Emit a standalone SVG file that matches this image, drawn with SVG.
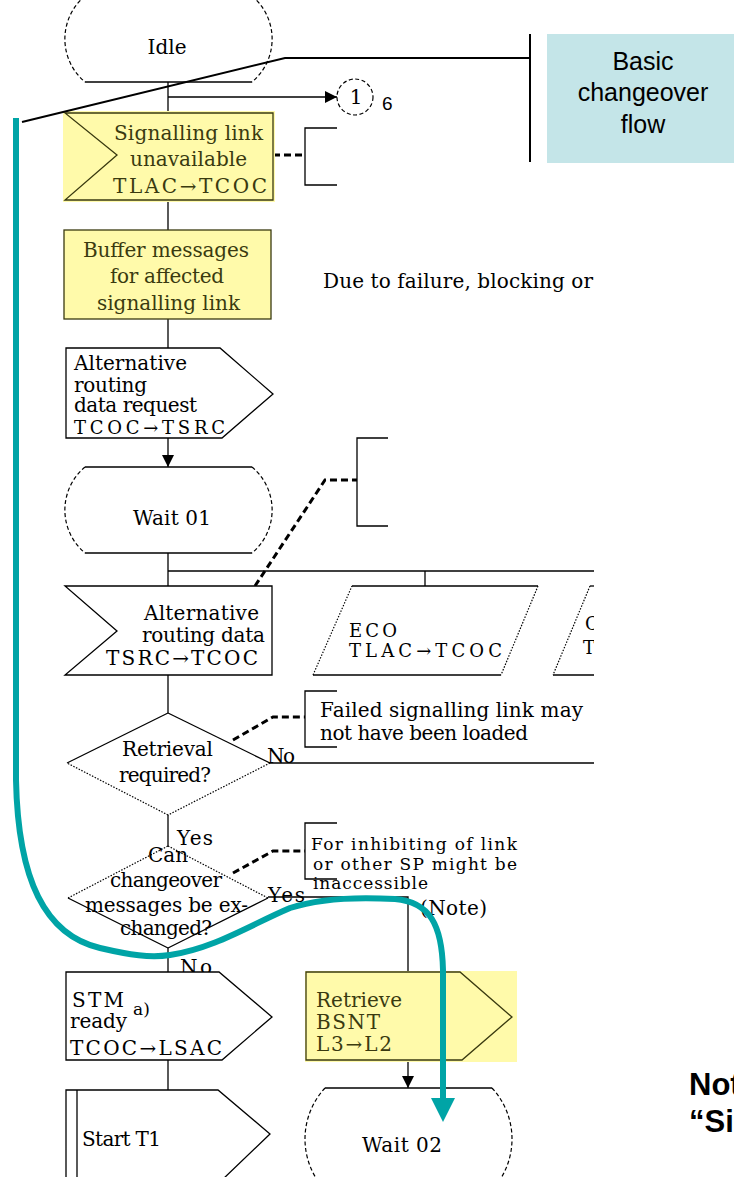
<svg xmlns="http://www.w3.org/2000/svg" width="734" height="1177" viewBox="0 0 734 1177">
<defs>
<style>
.ln{fill:none;stroke:#000;stroke-width:1.3}
.sh{fill:#fff;stroke:#000;stroke-width:1.3}
.yl{fill:none;stroke:#3a3a10;stroke-width:1.3}
.dsh{fill:none;stroke:#000;stroke-width:1.2;stroke-dasharray:4 2.5}
.dot{fill:none;stroke:#000;stroke-width:1.2;stroke-dasharray:1.5 1.5}
.note{fill:none;stroke:#000;stroke-width:3;stroke-dasharray:7 4}
.t{font-family:"DejaVu Serif","Liberation Serif",serif;font-size:20px;fill:#000}
.s{font-size:17px}
.m{font-size:18px}
.ty{fill:#3a3a10}
.box{fill:#fffaaa}
.sans{font-family:"Liberation Sans",Arial,sans-serif}
</style>
<marker id="ah" viewBox="0 0 10 10" refX="10" refY="5" markerWidth="12" markerHeight="12" markerUnits="userSpaceOnUse" orient="auto"><path d="M0,0 L10,5 L0,10 Z" fill="#000"/></marker>
<marker id="tah" viewBox="0 0 10 10" refX="0" refY="5" markerWidth="24" markerHeight="24" markerUnits="userSpaceOnUse" orient="auto"><path d="M0,0 L10,5 L0,10 Z" fill="#00a4a6"/></marker>
<clipPath id="cp"><rect x="0" y="0" width="594" height="1177"/></clipPath>
</defs>
<rect width="734" height="1177" fill="#fff"/>

<g clip-path="url(#cp)">
<g id="connectors">
<line class="ln" x1="168" y1="82" x2="168" y2="113"/>
<line class="ln" x1="168" y1="97" x2="337" y2="97" marker-end="url(#ah)"/>
<line class="ln" x1="168" y1="200" x2="168" y2="230"/>
<line class="ln" x1="168" y1="319" x2="168" y2="348"/>
<line class="ln" x1="168" y1="438" x2="168" y2="467" marker-end="url(#ah)"/>
<line class="ln" x1="168" y1="553" x2="168" y2="586"/>
<line class="ln" x1="168" y1="571" x2="600" y2="571"/>
<line class="ln" x1="425" y1="571" x2="425" y2="586"/>
<line class="ln" x1="168" y1="675" x2="168" y2="713"/>
<line class="ln" x1="270" y1="763" x2="600" y2="763"/>
<line class="ln" x1="168" y1="815" x2="168" y2="846"/>
<polyline class="ln" points="268,897 408,897 408,972"/>
<line class="ln" x1="168" y1="948" x2="168" y2="972"/>
<line class="ln" x1="168" y1="1060" x2="168" y2="1090"/>
<line class="ln" x1="408" y1="1060" x2="408" y2="1088" marker-end="url(#ah)"/>
<polyline class="note" points="273,155 305,155"/>
<path class="ln" d="M337,128 H305 V185 H337"/>
<polyline class="note" points="255,586 325,480 357,480"/>
<path class="ln" d="M388,438 H357 V526 H388"/>
<polyline class="note" points="233,740 273,717 305,717"/>
<path class="ln" d="M337,691 H305 V747 H337"/>
<polyline class="note" points="233,873 273,851 305,851"/>
<path class="ln" d="M337,823 H305 V879 H337"/>
<text class="t" x="267" y="763" textLength="28">No</text>
<text class="t" x="177" y="845" textLength="36">Yes</text>
<text class="t" x="268" y="902" textLength="37">Yes</text>
<text class="t" x="180" y="974" textLength="32">No</text>
<text class="t" x="420" y="915" textLength="67">(Note)</text>
<text class="t" x="320" y="717" textLength="263">Failed signalling link may</text>
<text class="t" x="320" y="740" textLength="208">not have been loaded</text>
<text class="t s" x="311" y="850" textLength="206">For inhibiting of link</text>
<text class="t s" x="313" y="870" textLength="204">or other SP might be</text>
<text class="t s" x="313" y="889" textLength="115">inaccessible</text>
<text class="t" x="323" y="288" textLength="270">Due to failure, blocking or</text>
</g>

<g id="idle">
<path class="dsh" d="M85,-4 A56,56 0 0 0 85,82"/>
<path class="dsh" d="M252,-4 A56,56 0 0 1 252,82"/>
<line class="ln" x1="85" y1="82" x2="252" y2="82"/>
<text class="t" x="167" y="54" text-anchor="middle">Idle</text>
</g>

<g id="connector-1">
<circle cx="355" cy="97" r="18" class="dsh"/>
<text class="t" x="356" y="104" text-anchor="middle">1</text>
<text class="sans" x="382" y="110" font-size="19">6</text>
</g>

<g id="link-unavailable">
<rect class="box" x="63" y="111" width="212" height="91"/>
<path class="yl" d="M65,113 H273 V200 H65 L117,155 Z"/>
<text class="t ty" x="114" y="140" textLength="149">Signalling link</text>
<text class="t ty" x="130" y="166" textLength="117">unavailable</text>
<text class="t ty" x="113" y="193" textLength="154">TLAC→TCOC</text>
</g>

<g id="buffer">
<rect class="box" x="64" y="230" width="207" height="89"/>
<rect class="yl" x="64" y="230" width="207" height="89"/>
<text class="t ty" x="83" y="257" textLength="166">Buffer messages</text>
<text class="t ty" x="110" y="283" textLength="114">for affected</text>
<text class="t ty" x="97" y="310" textLength="143">signalling link</text>
</g>

<g id="alt-request">
<polygon class="sh" points="66,348 220,348 273,394 222,438 66,438"/>
<text class="t" x="74" y="370" textLength="113">Alternative</text>
<text class="t" x="74" y="392" textLength="73">routing</text>
<text class="t" x="74" y="412" textLength="123">data request</text>
<text class="t m" x="74" y="434" textLength="151">TCOC→TSRC</text>
</g>

<g id="wait01">
<path class="dsh" d="M85,467 A56,56 0 0 0 85,553"/>
<path class="dsh" d="M252,467 A56,56 0 0 1 252,553"/>
<line class="ln" x1="85" y1="467" x2="252" y2="467"/>
<line class="ln" x1="85" y1="553" x2="252" y2="553"/>
<text class="t" x="133" y="525" textLength="78">Wait 01</text>
</g>

<g id="alt-data">
<path class="sh" d="M65,586 H272 V675 H65 L117,631 Z"/>
<text class="t" x="144" y="620" textLength="115">Alternative</text>
<text class="t" x="142" y="642" textLength="123">routing data</text>
<text class="t" x="106" y="665" textLength="152">TSRC→TCOC</text>
</g>

<g id="eco">
<line class="ln" x1="352" y1="586" x2="538" y2="586"/>
<line class="dot" x1="538" y1="586" x2="501" y2="675"/>
<line class="ln" x1="501" y1="675" x2="313" y2="675"/>
<line class="dot" x1="313" y1="675" x2="352" y2="586"/>
<text class="t m" x="349" y="637" textLength="48">ECO</text>
<text class="t m" x="349" y="657" textLength="153">TLAC→TCOC</text>
</g>

<g id="partial-shape">
<line class="ln" x1="590" y1="586" x2="600" y2="586"/>
<line class="dot" x1="590" y1="586" x2="553" y2="675"/>
<line class="ln" x1="553" y1="675" x2="600" y2="675"/>
<text class="t m" x="585" y="630">C</text>
<text class="t m" x="583" y="654">T</text>
</g>
</g>

<g id="retrieval-required">
<line class="ln" x1="67" y1="763" x2="168" y2="713"/>
<line class="ln" x1="168" y1="713" x2="270" y2="763"/>
<line class="dot" x1="270" y1="763" x2="168" y2="815"/>
<line class="dot" x1="168" y1="815" x2="67" y2="763"/>
<text class="t" x="122" y="756" textLength="91">Retrieval</text>
<text class="t" x="119" y="782" textLength="92">required?</text>
</g>

<g id="can-changeover">
<line class="dot" x1="68" y1="898" x2="168" y2="846"/>
<line class="dot" x1="168" y1="846" x2="268" y2="898"/>
<line class="ln" x1="268" y1="898" x2="168" y2="948"/>
<line class="ln" x1="168" y1="948" x2="68" y2="898"/>
<text class="t" x="148" y="862">Can</text>
<text class="t" x="110" y="887" textLength="112">changeover</text>
<text class="t" x="85" y="912" textLength="163">messages be ex-</text>
<text class="t" x="120" y="935" textLength="92">changed?</text>
</g>

<g id="stm-ready">
<polygon class="sh" points="66,972 219,972 272,1017 222,1060 66,1060"/>
<text class="t" x="72" y="1007" textLength="52">STM</text>
<text class="t s" x="133" y="1015">a)</text>
<text class="t" x="70" y="1028" textLength="57">ready</text>
<text class="t" x="70" y="1055" textLength="152">TCOC→LSAC</text>
</g>

<g id="start-t1">
<polygon class="sh" points="66,1090 218,1090 270,1134 222,1180 66,1180"/>
<line class="ln" x1="77" y1="1090" x2="77" y2="1180"/>
<text class="t" x="82" y="1146" textLength="79">Start T1</text>
</g>

<g id="retrieve-bsnt">
<rect class="box" x="305" y="971" width="212" height="91"/>
<polygon class="yl" points="306,972 460,972 512,1017 462,1060 306,1060"/>
<text class="t ty" x="316" y="1007" textLength="86">Retrieve</text>
<text class="t ty" x="316" y="1029" textLength="64">BSNT</text>
<text class="t ty" x="316" y="1051" textLength="76">L3→L2</text>
</g>

<g id="wait02">
<path class="dsh" d="M325,1088 A75,75 0 0 0 325,1190"/>
<path class="dsh" d="M492,1088 A75,75 0 0 1 492,1190"/>
<line class="ln" x1="325" y1="1088" x2="492" y2="1088"/>
<text class="t" x="362" y="1152" textLength="80">Wait 02</text>
</g>

<g id="title">
<polyline points="22,122 285,58 530,58" fill="none" stroke="#000" stroke-width="2"/>
<line x1="530" y1="34" x2="530" y2="162" stroke="#000" stroke-width="2"/>
<rect x="547" y="34" width="187" height="129" fill="#c4e5e8"/>
<text class="sans" x="643" y="70" font-size="25" text-anchor="middle">Basic</text>
<text class="sans" x="643" y="101" font-size="25" text-anchor="middle">changeover</text>
<text class="sans" x="643" y="133" font-size="25" text-anchor="middle">flow</text>
</g>

<g id="path-highlight">
<path d="M16,118 L16,780 C18,880 45,935 100,948 C130,955 150,958 170,955 C215,948 250,925 290,908 C320,898 360,897 395,899 C430,902 442,925 443,970 L443,1098" fill="none" stroke="#00a4a6" stroke-width="6" marker-end="url(#tah)"/>
</g>

<g id="note">
<text class="sans" x="689" y="1095" font-size="31" font-weight="bold">Not</text>
<text class="sans" x="689" y="1132" font-size="31" font-weight="bold">“Si</text>
</g>
</svg>
